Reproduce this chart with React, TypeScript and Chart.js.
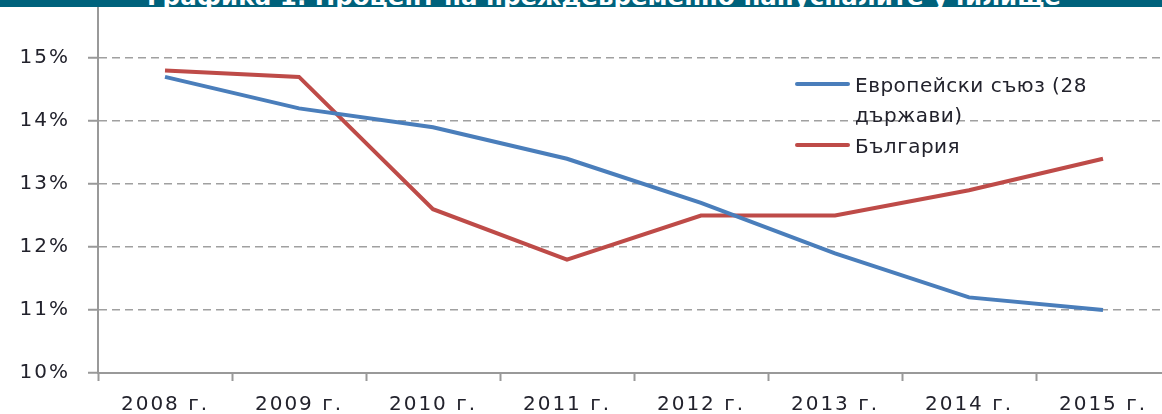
import { useEffect, useRef } from "react";
import { Chart, registerables } from "chart.js";

Chart.register(...registerables);

const categories = ["2008 г.", "2009 г.", "2010 г.", "2011 г.", "2012 г.", "2013 г.", "2014 г.", "2015 г."];
const euValues = [14.7, 14.2, 13.9, 13.4, 12.7, 11.9, 11.2, 11.0];
const bgValues = [14.8, 14.7, 12.6, 11.8, 12.5, 12.5, 12.9, 13.4];
const seriesNames = ["Европейски съюз (28 държави)", "България"];
const legendLines = [["Европейски съюз (28", "държави)"], ["България"]];
const yMin = 10;
const yMax = 16;
const yStep = 1;
const titleText = "Графика 1. Процент на преждевременно напусналите училище";

const seriesColors = ["#4a7ebb", "#be4b48"];
const FONT = "'DejaVu Sans', Verdana, sans-serif";
const TEXT_COLOR = "#22222c";

const spacingPlugin = {
  id: "letterSpacing",
  beforeInit(chart: any) {
    (chart.ctx as any).letterSpacing = "2px";
  },
  beforeDraw(chart: any) {
    (chart.ctx as any).letterSpacing = "2px";
  },
};

const legendPlugin = {
  id: "inlineLegend",
  afterDraw(chart: any) {
    const ctx = chart.ctx as CanvasRenderingContext2D;
    ctx.save();
    (ctx as any).letterSpacing = "0.5px";
    ctx.font = `20px ${FONT}`;
    ctx.textBaseline = "alphabetic";
    const items = [
      { lineY: 104, textX: 855, baselines: [111.7, 141.7] },
      { lineY: 165, textX: 855, baselines: [172.7] },
    ];
    items.forEach((it, i) => {
      ctx.strokeStyle = seriesColors[i];
      ctx.lineWidth = 4;
      ctx.lineCap = "round";
      ctx.beginPath();
      ctx.moveTo(797, it.lineY);
      ctx.lineTo(848, it.lineY);
      ctx.stroke();
      ctx.fillStyle = TEXT_COLOR;
      legendLines[i].forEach((t, j) => ctx.fillText(t, it.textX, it.baselines[j]));
    });
    ctx.restore();
  },
};

export default function App() {
  const ref = useRef<HTMLCanvasElement>(null);
  useEffect(() => {
    document.body.style.margin = "0";
    const chart = new Chart(ref.current as HTMLCanvasElement, {
      type: "line",
      data: {
        labels: categories,
        datasets: [
          {
            label: seriesNames[0],
            data: euValues,
            borderColor: seriesColors[0],
            backgroundColor: seriesColors[0],
            borderWidth: 4,
            pointRadius: 0,
            tension: 0,
            fill: false,
          },
          {
            label: seriesNames[1],
            data: bgValues,
            borderColor: seriesColors[1],
            backgroundColor: seriesColors[1],
            borderWidth: 4,
            pointRadius: 0,
            tension: 0,
            fill: false,
          },
        ],
      },
      options: {
        responsive: false,
        animation: false,
        layout: { padding: { top: 15, left: 0, right: 2, bottom: 0 } },
        plugins: {
          legend: { display: false },
          tooltip: { enabled: false },
          title: { display: false },
        },
        scales: {
          x: {
            offset: true,
            grid: {
              offset: true,
              drawOnChartArea: false,
              drawTicks: true,
              tickLength: 8,
              color: "#999",
              tickColor: "#999",
              tickWidth: 2,
            },
            border: { display: true, color: "#999", width: 2 },
            ticks: {
              font: { family: FONT, size: 20 },
              color: TEXT_COLOR,
              padding: 12,
              maxRotation: 0,
              autoSkip: false,
            },
            afterFit: (s: any) => {
              s.height = 41;
              s.paddingLeft = 0;
              s.paddingRight = 0;
            },
          },
          y: {
            min: yMin,
            max: yMax,
            ticks: {
              stepSize: yStep,
              callback: (v: any) => v + "%",
              font: { family: FONT, size: 20 },
              color: TEXT_COLOR,
              padding: 18,
            },
            grid: {
              color: "#a0a0a0",
              lineWidth: 1.5,
              tickLength: 10,
              tickColor: "#999",
              tickWidth: 2,
              tickBorderDash: [],
            },
            border: { display: true, color: "#999", width: 2, dash: [8, 5] },
            afterFit: (s: any) => {
              s.width = 98;
              s.paddingTop = 0;
              s.paddingBottom = 0;
            },
          },
        },
      },
      plugins: [spacingPlugin, legendPlugin],
    });
    return () => chart.destroy();
  }, []);

  return (
    <div style={{ position: "fixed", left: 0, top: 0, width: 1162, height: 414, overflow: "hidden", background: "#fff" }}>
      <div style={{ position: "absolute", left: 0, top: -20, width: 1172, height: 434 }}>
        <canvas ref={ref} width={1172} height={434} style={{ display: "block" }} />
      </div>
      <div
        style={{
          position: "absolute",
          left: 0,
          top: 0,
          width: 1162,
          height: 7,
          background: "#00627c",
          overflow: "hidden",
          zIndex: 2,
        }}
      >
        <span
          style={{
            position: "absolute",
            left: 147,
            top: -15,
            font: `bold 24.5px ${FONT}`,
            lineHeight: "24.5px",
            color: "#fff",
            whiteSpace: "nowrap",
          }}
        >
          {titleText}
        </span>
      </div>
    </div>
  );
}
